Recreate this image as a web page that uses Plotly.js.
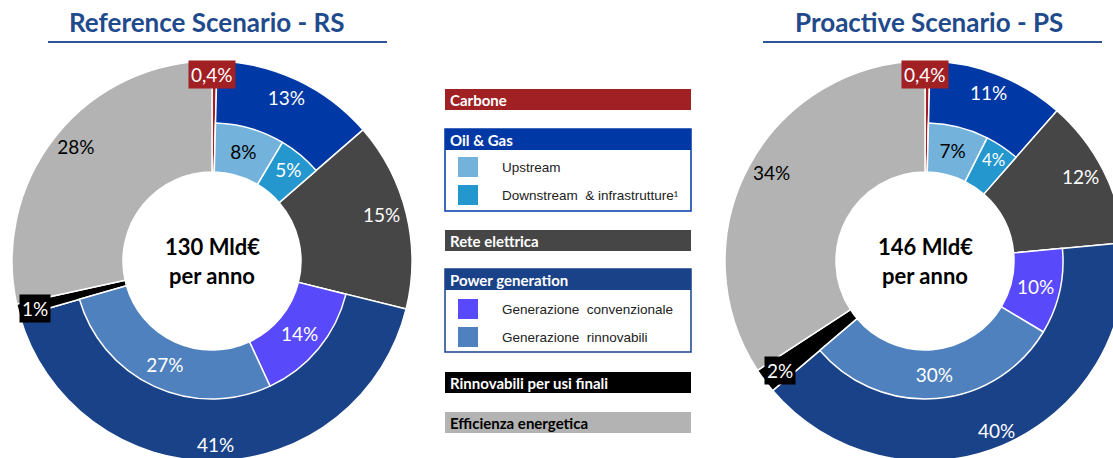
<!DOCTYPE html>
<html>
<head>
<meta charset="utf-8">
<script src="https://cdn.plot.ly/plotly-3.0.1.min.js"></script>
<style>
html,body{margin:0;padding:0;background:#fff;overflow:hidden;width:1113px;height:458px;}
#chart{width:1240px;height:470px;margin-left:-20px;}
</style>
</head>
<body>
<div id="chart"></div>
<script>
// ---- data ----
const scenarioTitles = ['Reference Scenario - RS', 'Proactive Scenario - PS'];
const totals = [130, 146];
const outerLabels = ['Carbone', 'Oil & Gas', 'Rete elettrica', 'Power generation', 'Rinnovabili per usi finali', 'Efficienza energetica'];
const rsOuter = [0.4, 13, 15, 41, 1, 28];
const psOuter = [0.4, 11, 12, 40, 2, 34];
const innerLabels = ['Upstream', 'Downstream\u00A0\u00A0& infrastrutture\u00B9', 'Generazione\u00A0\u00A0convenzionale', 'Generazione\u00A0\u00A0rinnovabili'];
const innerParent = [1, 1, 3, 3]; // index into outerLabels
const rsInner = [8, 5, 14, 27];
const psInner = [7, 4, 10, 30];

// ---- styles ----
const outerColors = ['#A02024', '#0039A6', '#464646', '#1A4288', '#000000', '#B3B3B3'];
const innerColors = ['#73B2DB', '#2397CE', '#5849FB', '#4E81BD'];
const outerTextColors = ['#fff', '#fff', '#fff', '#fff', '#fff', '#000'];
const innerTextColors = ['#000', '#fff', '#fff', '#fff'];
const OX = 20, W = 1240, H = 470;
const px = x => (x + OX) / W, py = y => (H - y) / H;
const R_OUT = 200, R_MID = 138, R_IN = 89, R_LBL = 220, R_BIG = 184;
const centers = [[212, 261], [925, 261]];
const TXT = 'Lato, "Open Sans", sans-serif';
const PCT = 19;
const fmt = v => String(v).replace('.', ',') + '%';

function dom(c, r) {
  return {x: [px(c[0] - r), px(c[0] + r)], y: [py(c[1] + r), py(c[1] - r)]};
}

const traces = [];
const annotations = [];
const shapes = [];

function ann(x, y, text, font, extra) {
  annotations.push(Object.assign({xref: 'paper', yref: 'paper', x: px(x), y: py(y), text: text,
    showarrow: false, xanchor: 'center', yanchor: 'middle', font: font}, extra || {}));
}

[rsOuter, psOuter].forEach((outer, s) => {
  const inner = s === 0 ? rsInner : psInner;
  const c = centers[s];
  // base ring: whole outer categories from hole to outer radius
  traces.push({
    type: 'pie', values: outer, labels: outerLabels, sort: false, direction: 'clockwise', rotation: 0,
    hole: R_IN / R_OUT, domain: dom(c, R_OUT), textinfo: 'none', showlegend: false, hoverinfo: 'skip',
    marker: {colors: outerColors, line: {color: '#fff', width: 1.5}}
  });
  // inner ring: sub-categories (others transparent)
  const iv = [], il = [], ic = [], ilw = [], it = [], itc = [];
  outer.forEach((v, k) => {
    const kids = innerParent.map((p, j) => p === k ? j : -1).filter(j => j >= 0);
    if (kids.length) {
      kids.forEach(j => {
        iv.push(inner[j]); il.push(innerLabels[j]); ic.push(innerColors[j]); ilw.push(1.5);
        it.push(fmt(inner[j])); itc.push(innerTextColors[j]);
      });
    } else {
      iv.push(v); il.push(outerLabels[k] + ' '); ic.push('rgba(0,0,0,0)'); ilw.push(0);
      it.push(''); itc.push('#000');
    }
  });
  traces.push({
    type: 'pie', values: iv, labels: il, sort: false, direction: 'clockwise', rotation: 0,
    hole: R_IN / R_MID, domain: dom(c, R_MID), textinfo: 'text', text: it, textposition: 'inside',
    insidetextorientation: 'horizontal', showlegend: false, hoverinfo: 'skip',
    textfont: {family: TXT, size: PCT, color: itc},
    marker: {colors: ic, line: {color: '#fff', width: ilw}}
  });
  // outer band labels (transparent ring, text only); the large slice is labelled separately below
  const total = outer.reduce((a, b) => a + b, 0);
  const maxV = Math.max(...outer);
  const ot = outer.map(v => (v < 3 || v === maxV ? '' : fmt(v)));
  traces.push({
    type: 'pie', values: outer, labels: outerLabels.map(l => l + '  '), sort: false, direction: 'clockwise', rotation: 0,
    hole: R_MID / R_LBL, domain: dom(c, R_LBL), textinfo: 'text', text: ot, textposition: 'inside',
    insidetextorientation: 'horizontal', showlegend: false, hoverinfo: 'skip',
    textfont: {family: TXT, size: PCT, color: outerTextColors},
    marker: {colors: outer.map(() => 'rgba(0,0,0,0)'), line: {width: 0}}
  });
  // label of the largest slice at its mid-angle in the outer band
  let cum = 0;
  outer.forEach((v, k) => {
    if (v === maxV) {
      const a = (cum + v / 2) / total * 2 * Math.PI;
      ann(c[0] + R_BIG * Math.sin(a), c[1] - R_BIG * Math.cos(a), fmt(v), {family: TXT, size: PCT, color: outerTextColors[k]});
    }
    cum += v;
  });
});

// small-slice labels (boxed)
const smallPos = [[[212, 74], [35, 308]], [[925, 74], [780, 370]]];
[rsOuter, psOuter].forEach((outer, s) => {
  [[0, 0], [4, 1]].forEach(([k, p]) => {
    ann(smallPos[s][p][0], smallPos[s][p][1], fmt(outer[k]), {family: TXT, size: PCT, color: '#fff'},
      {bgcolor: outerColors[k], borderpad: 2});
  });
});

// titles, underline, centre text
const titleX = [207, 929];
const ulines = [[48, 387], [763, 1102]];
scenarioTitles.forEach((t, s) => {
  ann(titleX[s], 22, '<b>' + t + '</b>', {family: TXT, size: 26, color: '#1F4A8C'});
  shapes.push({type: 'line', xref: 'paper', yref: 'paper', x0: px(ulines[s][0]), x1: px(ulines[s][1]),
    y0: py(42), y1: py(42), line: {color: '#2F5597', width: 2}});
  ann(centers[s][0], 246, '<b>' + totals[s] + ' Mld€</b>', {family: TXT, size: 22, color: '#000'});
  ann(centers[s][0], 275, '<b>per anno</b>', {family: TXT, size: 22, color: '#000'});
});

// ---- custom legend ----
const LX0 = 445, LX1 = 691;
function rect(x0, y0, x1, y1, fill, line) {
  shapes.push({type: 'rect', xref: 'paper', yref: 'paper', x0: px(x0), x1: px(x1), y0: py(y1), y1: py(y0),
    fillcolor: fill || 'rgba(0,0,0,0)', line: line || {width: 0}});
}
function label(x, y, t, color, bold, size, fam) {
  ann(x, y, bold ? '<b>' + t + '</b>' : t, {family: fam || TXT, size: size || 14, color: color}, {xanchor: 'left'});
}
const headerTop = [89, 129, 230, 269, 372, 412];
const headerH = 21;
const boxBottom = {1: 211, 3: 352};
outerLabels.forEach((lab, k) => {
  const y0 = headerTop[k];
  if (boxBottom[k]) {
    rect(LX0, y0, LX1, boxBottom[k], '#fff', {color: outerColors[k], width: 1.5});
  }
  rect(LX0, y0, LX1, y0 + headerH, outerColors[k]);
  label(448, y0 + headerH / 2 + 0.5, lab, outerTextColors[k], true, 15);
});
const itemTop = [157, 185, 299, 327];
innerLabels.forEach((lab, j) => {
  const y0 = itemTop[j];
  rect(458, y0, 478, y0 + 20, innerColors[j]);
  label(500, y0 + 10, lab, '#222', false, 13.5, '"Liberation Sans", Arial, sans-serif');
});

Plotly.newPlot('chart', traces, {
  width: W, height: H, margin: {l: 0, r: 0, t: 0, b: 0},
  paper_bgcolor: '#fff', plot_bgcolor: '#fff', showlegend: false,
  annotations: annotations, shapes: shapes
}, {staticPlot: true, displayModeBar: false});
</script>
</body>
</html>
